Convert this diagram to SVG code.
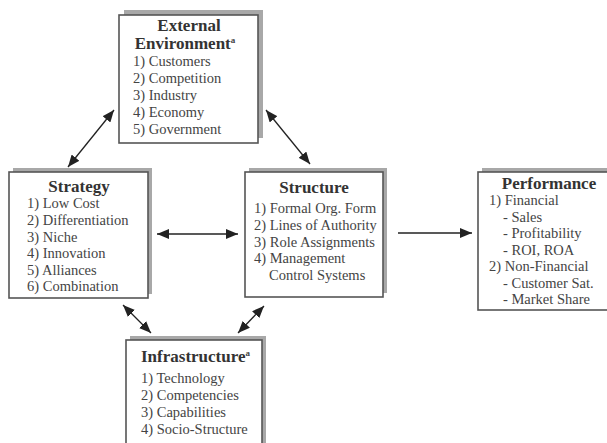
<svg xmlns="http://www.w3.org/2000/svg" width="607" height="443" viewBox="0 0 607 443">
<defs>
<style>
.shadow{fill:#a8a8a8;stroke:none}
.box{fill:#fff;stroke:#555;stroke-width:1.6}
.t{font-family:"Liberation Serif","Times New Roman",serif;font-weight:bold;font-size:17px;fill:#333}
.i{font-family:"Liberation Serif","Times New Roman",serif;font-size:14.5px;fill:#444}
.sup{font-family:"Liberation Serif","Times New Roman",serif;font-size:9px;fill:#444}
.c{stroke:#222;stroke-width:1.3;fill:none}
</style>
<marker id="ah" viewBox="0 0 12 10" refX="12" refY="5" markerWidth="12" markerHeight="10" markerUnits="userSpaceOnUse" orient="auto-start-reverse">
<path d="M0,0 L12,5 L0,10 z" fill="#222"/>
</marker>
</defs>
<rect width="607" height="443" fill="#fff"/>

<g id="external">
<rect class="shadow" x="124" y="10" width="139" height="128"/>
<rect class="box" x="119" y="15" width="139" height="128"/>
<text class="t" x="189" y="31" text-anchor="middle" font-size="16.5">External</text>
<text class="t" x="185" y="49" text-anchor="middle" font-size="16.5">Environment<tspan class="sup" dy="-6">a</tspan></text>
<text class="i" x="133" y="66">1) Customers</text>
<text class="i" x="133" y="83">2) Competition</text>
<text class="i" x="133" y="100">3) Industry</text>
<text class="i" x="133" y="117">4) Economy</text>
<text class="i" x="133" y="134">5) Government</text>
</g>

<g id="strategy">
<rect class="shadow" x="13" y="168" width="139" height="126"/>
<rect class="box" x="9" y="172" width="139" height="126"/>
<text class="t" x="79" y="192" text-anchor="middle">Strategy</text>
<text class="i" x="27" y="208">1) Low Cost</text>
<text class="i" x="27" y="225">2) Differentiation</text>
<text class="i" x="27" y="242">3) Niche</text>
<text class="i" x="27" y="258">4) Innovation</text>
<text class="i" x="27" y="275">5) Alliances</text>
<text class="i" x="27" y="291">6) Combination</text>
</g>

<g id="structure">
<rect class="shadow" x="249" y="168" width="138" height="125"/>
<rect class="box" x="245" y="172" width="138" height="125"/>
<text class="t" x="314" y="193" text-anchor="middle">Structure</text>
<text class="i" x="254" y="213">1) Formal Org. Form</text>
<text class="i" x="254" y="230">2) Lines of Authority</text>
<text class="i" x="254" y="247">3) Role Assignments</text>
<text class="i" x="254" y="263">4) Management</text>
<text class="i" x="269" y="280">Control Systems</text>
</g>

<g id="performance">
<rect class="shadow" x="482" y="168" width="140" height="138"/>
<rect class="box" x="478" y="172" width="140" height="138"/>
<text class="t" x="549" y="189" text-anchor="middle">Performance</text>
<text class="i" x="489" y="205">1) Financial</text>
<text class="i" x="503" y="222">- Sales</text>
<text class="i" x="503" y="238">- Profitability</text>
<text class="i" x="503" y="255">- ROI, ROA</text>
<text class="i" x="489" y="271">2) Non-Financial</text>
<text class="i" x="503" y="288">- Customer Sat.</text>
<text class="i" x="503" y="304">- Market Share</text>
</g>

<g id="infrastructure">
<rect class="shadow" x="130" y="336" width="136" height="120"/>
<rect class="box" x="126" y="340" width="136" height="120"/>
<text class="t" x="141" y="362">Infrastructure<tspan class="sup" dy="-6">a</tspan></text>
<text class="i" x="141" y="383">1) Technology</text>
<text class="i" x="141" y="400">2) Competencies</text>
<text class="i" x="141" y="417">3) Capabilities</text>
<text class="i" x="141" y="434">4) Socio-Structure</text>
</g>

<g id="connectors">
<line class="c" x1="114" y1="110" x2="68" y2="167" marker-start="url(#ah)" marker-end="url(#ah)"/>
<line class="c" x1="266" y1="110" x2="310" y2="164" marker-start="url(#ah)" marker-end="url(#ah)"/>
<line class="c" x1="157" y1="234" x2="238" y2="234" marker-start="url(#ah)" marker-end="url(#ah)"/>
<line class="c" x1="398" y1="233" x2="472" y2="233" marker-end="url(#ah)"/>
<line class="c" x1="123" y1="305" x2="151" y2="333" marker-start="url(#ah)" marker-end="url(#ah)"/>
<line class="c" x1="264" y1="306" x2="238" y2="333" marker-start="url(#ah)" marker-end="url(#ah)"/>
</g>
</svg>
